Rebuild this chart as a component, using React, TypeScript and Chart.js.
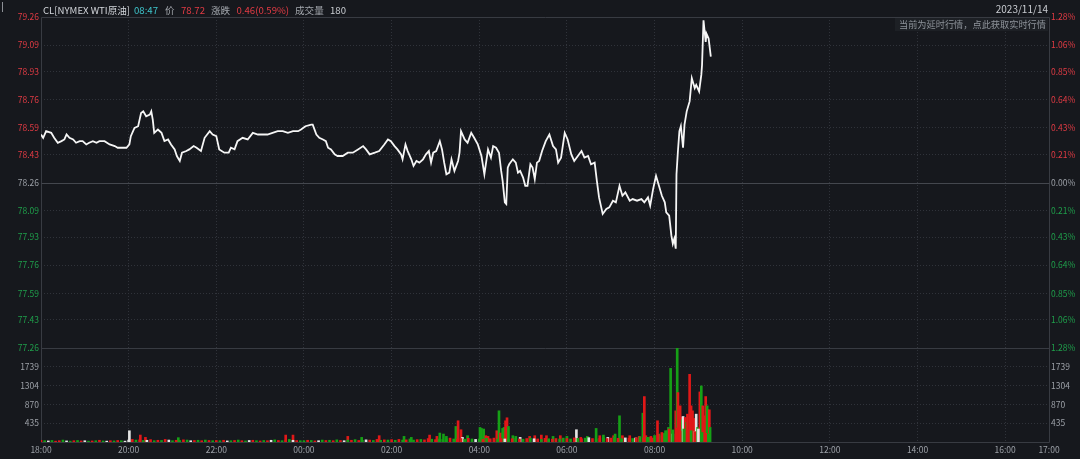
import React, { useEffect, useRef } from 'react';
import { Chart, registerables } from 'chart.js';

Chart.register(...registerables);

// ---------- data ----------
const prevClose = 78.26;

// minutes after 18:00
const priceTimes = [
  0, 3, 7, 14, 18, 23, 28, 32, 35, 39, 44, 48, 53, 57, 62, 66, 71, 76, 80, 87,
  94, 101, 105, 112, 117, 121, 123, 128, 133, 137, 140, 144, 149, 151, 153, 155, 160, 165, 169, 174,
  178, 183, 186, 190, 193, 199, 203, 209, 213, 219, 224, 231, 235, 240, 244, 251, 257, 260, 265, 269,
  276, 283, 290, 297, 304, 310, 317, 324, 331, 338, 345, 352, 356, 362, 370, 372, 377, 381, 386, 390,
  393, 397, 402, 406, 413, 420, 427, 434, 441, 445, 450, 457, 463, 470, 475, 479, 484, 488, 493, 495,
  499, 502, 507, 510, 514, 518, 523, 527, 531, 534, 537, 541, 546, 549, 552, 555, 559, 562, 566, 571,
  573, 575, 580, 584, 589, 593, 598, 603, 607, 612, 616, 619, 623, 627, 630, 632, 635, 637, 639, 641,
  646, 650, 653, 656, 660, 663, 666, 670, 673, 676, 679, 682, 686, 691, 696, 701, 705, 708, 712, 717,
  721, 726, 730, 735, 740, 744, 749, 753, 758, 761, 764, 767, 769, 774, 778, 783, 787, 792, 796, 800,
  806, 810, 816, 822, 826, 831, 834, 838, 842, 846, 850, 854, 856, 860, 863, 865, 867, 869, 870, 872,
  874, 876, 879, 881, 884, 888, 891, 895, 897, 901, 904, 905, 907, 910, 911, 914, 917,
];
const prices = [
  78.55, 78.53, 78.57, 78.56, 78.53, 78.5, 78.51, 78.52, 78.55, 78.53, 78.52, 78.5, 78.51, 78.51, 78.49, 78.5, 78.51, 78.5, 78.51, 78.51,
  78.49, 78.48, 78.47, 78.47, 78.47, 78.49, 78.54, 78.59, 78.6, 78.68, 78.69, 78.66, 78.67, 78.69, 78.64, 78.56, 78.58, 78.56, 78.51, 78.52,
  78.49, 78.46, 78.42, 78.39, 78.44, 78.45, 78.46, 78.48, 78.47, 78.45, 78.53, 78.57, 78.55, 78.54, 78.46, 78.44, 78.44, 78.47, 78.46, 78.51,
  78.53, 78.52, 78.56, 78.55, 78.55, 78.55, 78.56, 78.57, 78.57, 78.56, 78.57, 78.57, 78.58, 78.6, 78.61, 78.61, 78.55, 78.53, 78.52, 78.51,
  78.47, 78.46, 78.43, 78.42, 78.42, 78.44, 78.44, 78.46, 78.48, 78.46, 78.43, 78.44, 78.45, 78.49, 78.52, 78.51, 78.48, 78.46, 78.43, 78.4,
  78.49, 78.45, 78.4, 78.36, 78.39, 78.38, 78.4, 78.43, 78.45, 78.38, 78.44, 78.45, 78.51, 78.46, 78.38, 78.31, 78.32, 78.4, 78.33, 78.39,
  78.44, 78.57, 78.52, 78.5, 78.56, 78.53, 78.49, 78.42, 78.31, 78.46, 78.41, 78.48, 78.47, 78.44, 78.33, 78.27, 78.14, 78.13, 78.35, 78.37,
  78.4, 78.38, 78.32, 78.33, 78.29, 78.24, 78.24, 78.37, 78.35, 78.28, 78.38, 78.39, 78.45, 78.51, 78.55, 78.48, 78.46, 78.38, 78.41, 78.56,
  78.52, 78.43, 78.39, 78.42, 78.45, 78.41, 78.42, 78.37, 78.38, 78.27, 78.17, 78.11, 78.07, 78.1, 78.11, 78.15, 78.14, 78.24, 78.18, 78.2,
  78.15, 78.16, 78.15, 78.16, 78.14, 78.17, 78.12, 78.22, 78.3, 78.24, 78.18, 78.14, 78.08, 78.06, 77.94, 77.89, 77.92, 77.86, 78.31, 78.45,
  78.57, 78.6, 78.47, 78.61, 78.69, 78.75, 78.89, 78.83, 78.85, 78.81, 78.91, 78.97, 79.24, 79.11, 79.16, 79.13, 79.02,
];

// background volume, one bar every 5 minutes from 18:00
const quietVolStep = 5;
const quietVolumes = [
  40, 30, 25, 35, 20, 30, 45, 25, 20, 30, 35, 25, 30, 20, 25, 30, 40, 25, 20, 30, 25, 35, 30, 20,
  45, 60, 45, 50, 35, 40, 55, 30, 40, 35, 60, 45, 30, 40, 35, 50, 45, 30, 35, 40, 30, 45, 35, 30,
  35, 30, 40, 25, 30, 35, 45, 30, 25, 35, 40, 30, 25, 35, 30, 40, 50, 35, 30, 45, 60, 40, 35, 30,
  30, 40, 35, 25, 30, 45, 35, 40, 30, 50, 35, 30, 45, 40, 55, 35, 40, 50, 45, 35, 60, 40, 50, 45,
  55, 40, 60, 45, 50, 70, 45, 55, 60, 50, 80, 65, 55, 70, 60, 75, 90, 70, 60, 80, 65, 85, 70, 60,
  70, 60, 85, 75, 90, 65, 80, 70, 60, 75, 85, 70, 65, 80, 90, 75, 70, 60, 85, 75, 65, 80, 70, 90,
  80, 70, 95, 85, 75, 90, 100, 80, 70, 85, 95, 80, 90, 110, 85, 75, 95, 90, 80, 100, 120, 95, 110, 130,
  150, 180, 220, 260, 300, 280, 320, 250, 300, 280, 260, 240, 300, 220, 200, 180,
];
const quietDirs =
  'rgwgrrgwgrgrwgrgrgwrgrgw' +
  'wrgrgwrgrgrwgrgrgwrgrgrg' +
  'rgrwgrgrgwrgrgrwgrgrgwrg' +
  'grgrwgrgrgrwgrgrgwrgrgrg' +
  'rgrgrggrgrrgrgggrgrrgrgw' +
  'grgrrgrwgrgrgrgwrgrgrrgg' +
  'rgrgrgwrgrgrrgrgwrgrgrgr' +
  'grrgrgrrgrgrwgrg';

// larger single-minute volume bars
const volTimes = [
  121, 136, 143, 188, 335, 345, 420, 439, 463, 497, 507, 532, 542, 546, 551, 555, 568, 571, 575, 577,
  584, 601, 603, 606, 609, 612, 624, 627, 629, 632, 634, 636, 638, 640, 646, 650, 656, 669, 676, 685,
  692, 701, 711, 720, 733, 739, 748, 760, 765, 770, 776, 784, 786, 792, 796, 806, 814, 819, 824, 826,
  828, 832, 838, 844, 846, 850, 853, 857, 859, 862, 863, 865, 869, 871, 872, 875, 877, 878, 879, 882,
  884, 885, 888, 890, 892, 894, 895, 897, 899, 902, 904, 906, 908, 910, 912, 913, 915, 916,
];
const volValues = [
  260, 161, 107, 100, 160, 160, 130, 107, 146, 130, 107, 160, 130, 207, 184, 130, 360, 491, 284, 107,
  146, 337, 314, 300, 146, 130, 260, 721, 207, 314, 337, 491, 560, 360, 146, 130, 107, 130, 146, 160,
  146, 130, 146, 130, 284, 107, 130, 314, 146, 160, 107, 146, 184, 606, 146, 146, 92, 130, 667, 1051,
  146, 107, 92, 491, 184, 146, 199, 260, 337, 1703, 146, 184, 721, 2174, 1143, 836, 568, 514, 590, 568,
  452, 644, 1565, 836, 721, 545, 238, 644, 337, 1158, 1296, 836, 606, 1051, 836, 744, 744, 337,
];
const volDirs =
  'wrrgrrrgrggrrggggrrw' +
  'ggggrrrgrggrrgggwrrr' +
  'rgrgwrggrgwrggrrwrgr' +
  'rgrrgggggggwrgrrrgwrg' +
  'rrrrrwwgrgrrrggrgg';

// axis tick labels
const timeTickValues = [0, 120, 240, 360, 480, 600, 720, 840, 960, 1080, 1200, 1320, 1380];
const timeTickLabels = ['18:00', '20:00', '22:00', '00:00', '02:00', '04:00', '06:00', '08:00', '10:00', '12:00', '14:00', '16:00', '17:00'];
const priceTickLabels = ['77.26', '77.43', '77.59', '77.76', '77.93', '78.09', '78.26', '78.43', '78.59', '78.76', '78.93', '79.09', '79.26'];
const pctTickLabels = ['1.28%', '1.06%', '0.85%', '0.64%', '0.43%', '0.21%', '0.00%', '0.21%', '0.43%', '0.64%', '0.85%', '1.06%', '1.28%'];
const volTickLabels = ['435', '870', '1304', '1739'];

// ---------- styles ----------
const BG = '#16181d';
const GRID = '#30333a';
const FRAME = '#383b42';
const MIDLINE = '#44474e';
const AXIS_TEXT = '#9ca0a7';
const UP = '#e23b44';
const DOWN = '#1f9f4b';
const BAR_UP = '#e01818';
const BAR_DOWN = '#16a016';
const BAR_FLAT = '#e4e4e4';
const FONT = "'Noto Sans CJK SC', 'Noto Sans', sans-serif";

const dirColor = (d: string) => (d === 'g' ? BAR_DOWN : d === 'w' ? BAR_FLAT : BAR_UP);
const priceColor = (v: number) => (Math.abs(v - prevClose) < 0.005 ? AXIS_TEXT : v > prevClose ? UP : DOWN);

const framePlugin = {
  id: 'frame',
  beforeDraw(chart: any) {
    const ctx = chart.ctx;
    ctx.save();
    ctx.fillStyle = BG;
    ctx.fillRect(0, 0, chart.width, chart.height);
    ctx.restore();
  },
  beforeDatasetsDraw(chart: any) {
    const ctx = chart.ctx;
    const { left, right, top, bottom } = chart.chartArea;
    const r = (v: number) => Math.round(v) + 0.5;
    const yMid = chart.scales.y.getPixelForValue(prevClose);
    const ySep = chart.scales.yv.top;
    ctx.save();
    ctx.lineWidth = 1;
    ctx.strokeStyle = FRAME;
    ctx.beginPath();
    ctx.moveTo(r(left), r(top));
    ctx.lineTo(r(right), r(top));
    ctx.lineTo(r(right), r(bottom));
    ctx.lineTo(r(left), r(bottom));
    ctx.closePath();
    ctx.moveTo(r(left), r(ySep));
    ctx.lineTo(r(right), r(ySep));
    ctx.stroke();
    ctx.strokeStyle = MIDLINE;
    ctx.beginPath();
    ctx.moveTo(r(left), r(yMid));
    ctx.lineTo(r(right), r(yMid));
    ctx.stroke();
    ctx.restore();
  },
};

const tickFont = { family: FONT, size: 8.5 };

export default function App() {
  const canvasRef = useRef<HTMLCanvasElement>(null);

  useEffect(() => {
    document.body.style.margin = '0';
    document.body.style.background = BG;
    const canvas = canvasRef.current;
    if (!canvas) return;

    const priceMin = parseFloat(priceTickLabels[0]);
    const priceMax = parseFloat(priceTickLabels[priceTickLabels.length - 1]);
    const volMax = Math.max(...volValues);
    const lastP = priceTickLabels.length - 1;
    const lastT = timeTickValues.length - 1;

    const yTicksCommon = { font: tickFont, padding: 2, autoSkip: false };

    const chart = new Chart(canvas, {
      type: 'bar',
      data: {
        datasets: [
          {
            type: 'line',
            label: 'price',
            data: priceTimes.map((t, i) => ({ x: t, y: prices[i] })),
            xAxisID: 'x',
            yAxisID: 'y',
            borderColor: '#f6f6f6',
            borderWidth: 1.8,
            pointRadius: 0,
            tension: 0,
            fill: false,
          } as any,
          {
            type: 'bar',
            label: 'volBase',
            data: quietVolumes.map((v, i) => ({ x: i * quietVolStep, y: v })),
            xAxisID: 'x',
            yAxisID: 'yv',
            backgroundColor: quietVolumes.map((_, i) => dirColor(quietDirs[i] || 'r')),
            barThickness: 2,
            grouped: false,
            borderWidth: 0,
          } as any,
          {
            type: 'bar',
            label: 'vol',
            data: volTimes.map((t, i) => ({ x: t, y: volValues[i] })),
            xAxisID: 'x',
            yAxisID: 'yv',
            backgroundColor: volTimes.map((_, i) => dirColor(volDirs[i] || 'r')),
            barThickness: 2,
            grouped: false,
            borderWidth: 0,
          } as any,
        ],
      },
      options: {
        responsive: false,
        animation: false,
        devicePixelRatio: 1,
        events: [],
        layout: { padding: { top: 17, left: 0, right: 0, bottom: 0 } },
        plugins: { legend: { display: false }, tooltip: { enabled: false } },
        scales: {
          x: {
            type: 'linear',
            position: 'bottom',
            min: timeTickValues[0],
            max: timeTickValues[lastT],
            offset: false,
            grid: {
              offset: false,
              drawTicks: false,
              color: (c: any) => (c.index === 0 || c.index === lastT ? 'rgba(0,0,0,0)' : GRID),
            },
            border: { display: false, dash: [1, 2] },
            ticks: {
              color: AXIS_TEXT,
              font: tickFont,
              padding: 3,
              maxRotation: 0,
              autoSkip: false,
              callback: (_v: any, i: number) => timeTickLabels[i],
            },
            afterBuildTicks: (s: any) => {
              s.ticks = timeTickValues.map((v) => ({ value: v }));
            },
            afterFit: (s: any) => {
              s.height = 17;
            },
          },
          y: {
            type: 'linear',
            position: 'left',
            stack: 'left',
            stackWeight: 331,
            weight: 2,
            min: priceMin,
            max: priceMax,
            grid: {
              drawTicks: false,
              color: (c: any) => (c.index === 0 || c.index === lastP || c.index === 6 ? 'rgba(0,0,0,0)' : GRID),
            },
            border: { display: false, dash: [1, 2] },
            ticks: {
              ...yTicksCommon,
              color: (c: any) => priceColor(c.tick ? c.tick.value : prevClose),
              callback: (_v: any, i: number) => priceTickLabels[i],
            },
            afterBuildTicks: (s: any) => {
              s.ticks = priceTickLabels.map((t) => ({ value: parseFloat(t) }));
            },
            afterFit: (s: any) => {
              s.width = 41;
            },
          },
          yv: {
            type: 'linear',
            position: 'left',
            stack: 'left',
            stackWeight: 94,
            weight: 1,
            min: 0,
            max: volMax,
            grid: { drawTicks: false, color: GRID },
            border: { display: false, dash: [1, 2] },
            ticks: {
              ...yTicksCommon,
              color: AXIS_TEXT,
              callback: (_v: any, i: number) => volTickLabels[i],
            },
            afterBuildTicks: (s: any) => {
              s.ticks = volTickLabels.map((t) => ({ value: parseFloat(t) }));
            },
            afterFit: (s: any) => {
              s.width = 41;
            },
          },
          yp: {
            type: 'linear',
            position: 'right',
            stack: 'right',
            stackWeight: 331,
            weight: 1,
            min: priceMin,
            max: priceMax,
            grid: { drawOnChartArea: false, drawTicks: false },
            border: { display: false },
            ticks: {
              ...yTicksCommon,
              color: (c: any) => priceColor(c.tick ? c.tick.value : prevClose),
              callback: (_v: any, i: number) => pctTickLabels[i],
            },
            afterBuildTicks: (s: any) => {
              s.ticks = priceTickLabels.map((t) => ({ value: parseFloat(t) }));
            },
            afterFit: (s: any) => {
              s.width = 31;
            },
          },
          yvr: {
            type: 'linear',
            position: 'right',
            stack: 'right',
            stackWeight: 94,
            weight: 2,
            min: 0,
            max: volMax,
            grid: { drawOnChartArea: false, drawTicks: false },
            border: { display: false },
            ticks: {
              ...yTicksCommon,
              color: AXIS_TEXT,
              callback: (_v: any, i: number) => volTickLabels[i],
            },
            afterBuildTicks: (s: any) => {
              s.ticks = volTickLabels.map((t) => ({ value: parseFloat(t) }));
            },
            afterFit: (s: any) => {
              s.width = 31;
            },
          },
        } as any,
      },
      plugins: [framePlugin],
    });

    return () => chart.destroy();
  }, []);

  const headerItems = [
    { text: 'CL[NYMEX WTI原油]', left: 43, color: '#d3d6db' },
    { text: '08:47', left: 134, color: '#3ec5cc' },
    { text: '价', left: 165, color: '#a4a8ae' },
    { text: '78.72', left: 181, color: UP },
    { text: '涨跌', left: 211, color: '#a4a8ae' },
    { text: '0.46(0.59%)', left: 236.5, color: UP },
    { text: '成交量', left: 295, color: '#a4a8ae' },
    { text: '180', left: 330, color: '#c9ccd1' },
  ];

  const textBase: React.CSSProperties = {
    position: 'absolute',
    fontFamily: FONT,
    fontSize: '9.6px',
    lineHeight: '12px',
    whiteSpace: 'nowrap',
  };

  return (
    <div style={{ position: 'relative', width: 1080, height: 459, background: BG, overflow: 'hidden' }}>
      <canvas ref={canvasRef} width={1080} height={459} style={{ display: 'block', width: 1080, height: 459 }} />
      <div style={{ position: 'absolute', left: 2, top: 2, width: 1, height: 10, background: '#8d9096' }} />
      {headerItems.map((h) => (
        <span key={h.text} style={{ ...textBase, left: h.left, top: 4, color: h.color }}>
          {h.text}
        </span>
      ))}
      <span style={{ ...textBase, right: 32, top: 3, fontSize: '10px', color: '#c9ccd1' }}>2023/11/14</span>
      <div
        style={{
          position: 'absolute',
          left: 895,
          top: 18,
          width: 153,
          height: 13,
          background: '#1d2025',
        }}
      />
      <span style={{ ...textBase, right: 34, top: 18, fontSize: '9.2px', color: '#8e939a' }}>
        当前为延时行情，点此获取实时行情
      </span>
    </div>
  );
}
